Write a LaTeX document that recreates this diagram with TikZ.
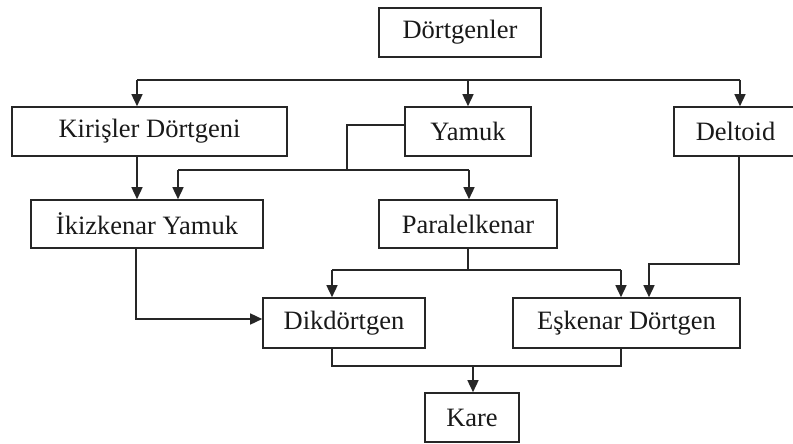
\documentclass[tikz,border=0pt]{standalone}
\usepackage{fontspec}
\setmainfont{Liberation Serif}
\usetikzlibrary{arrows.meta}
\tikzset{
  box/.style={draw=black!85, line width=1.6pt, inner sep=0pt, minimum height=49pt,
    font=\fontsize{26.5}{30}\selectfont, text=black!90},
  conn/.style={draw=black!85, line width=1.5pt},
  arr/.style={conn, -{Triangle[length=12pt,width=11pt]}},
}
\begin{document}
\begin{tikzpicture}[x=1pt,y=-1pt]
\useasboundingbox (0,0) rectangle (793,444);
\begin{scope}
\clip (0,0) rectangle (793,444);
\node[box, minimum width=162pt] (dort) at (460,32.5) {Dörtgenler};
\node[box, minimum width=275pt] (kir) at (149.5,131.5) {Kirişler Dörtgeni};
\node[box, minimum width=126pt] (yam) at (468,131.5) {Yamuk};
\node[box, minimum width=123pt] (del) at (735.5,131.5) {Deltoid};
\node[box, minimum width=232pt, minimum height=48pt] (ik) at (147,224) {İkizkenar Yamuk};
\node[box, minimum width=178pt, minimum height=48pt] (par) at (468,224) {Paralelkenar};
\node[box, minimum width=162pt, minimum height=50pt] (dik) at (344,323) {Dikdörtgen};
\node[box, minimum width=227pt, minimum height=50pt] (esk) at (626.5,323) {Eşkenar Dörtgen};
\node[box, minimum width=94pt] (kare) at (472,417.5) {Kare};
\end{scope}

% top bus
\coordinate (t1) at (137,80);
\coordinate (t2) at (468,80);
\coordinate (t3) at (740,80);
\draw[conn] (t1) -- (t3);
\draw[arr] (t1) -- (t1 |- kir.north);
\draw[arr] (t2) -- (t2 |- yam.north);
\draw[arr] (t3) -- (t3 |- del.north);

% Kirisler -> Ikizkenar
\coordinate (k1) at (137,156);
\draw[arr] (k1 |- kir.south) -- (k1 |- ik.north);

% Yamuk -> Ikizkenar, Paralelkenar
\coordinate (y1) at (347,125);
\coordinate (y2) at (347,170);
\coordinate (y3) at (178,170);
\coordinate (y4) at (469,170);
\draw[conn] (y1 -| yam.west) -- (y1) -- (y2);
\draw[conn] (y3) -- (y4);
\draw[arr] (y3) -- (y3 |- ik.north);
\draw[arr] (y4) -- (y4 |- par.north);

% Ikizkenar -> Dikdortgen
\coordinate (i1) at (136,319);
\draw[arr] (i1 |- ik.south) -- (i1) -- (i1 -| dik.west);

% Paralelkenar -> Dikdortgen, Eskenar
\coordinate (p0) at (468,270);
\coordinate (p1) at (332,270);
\coordinate (p2) at (621,270);
\draw[conn] (p0 |- par.south) -- (p0);
\draw[conn] (p1) -- (p2);
\draw[arr] (p1) -- (p1 |- dik.north);
\draw[arr] (p2) -- (p2 |- esk.north);

% Deltoid -> Eskenar
\coordinate (d1) at (739,264);
\coordinate (d2) at (649,264);
\draw[arr] (d1 |- del.south) -- (d1) -- (d2) -- (d2 |- esk.north);

% Dikdortgen, Eskenar -> Kare
\coordinate (b1) at (332,366);
\coordinate (b2) at (621,366);
\coordinate (b3) at (473,366);
\draw[conn] (b1 |- dik.south) -- (b1) -- (b2) -- (b2 |- esk.south);
\draw[arr] (b3) -- (b3 |- kare.north);
\end{tikzpicture}
\end{document}
